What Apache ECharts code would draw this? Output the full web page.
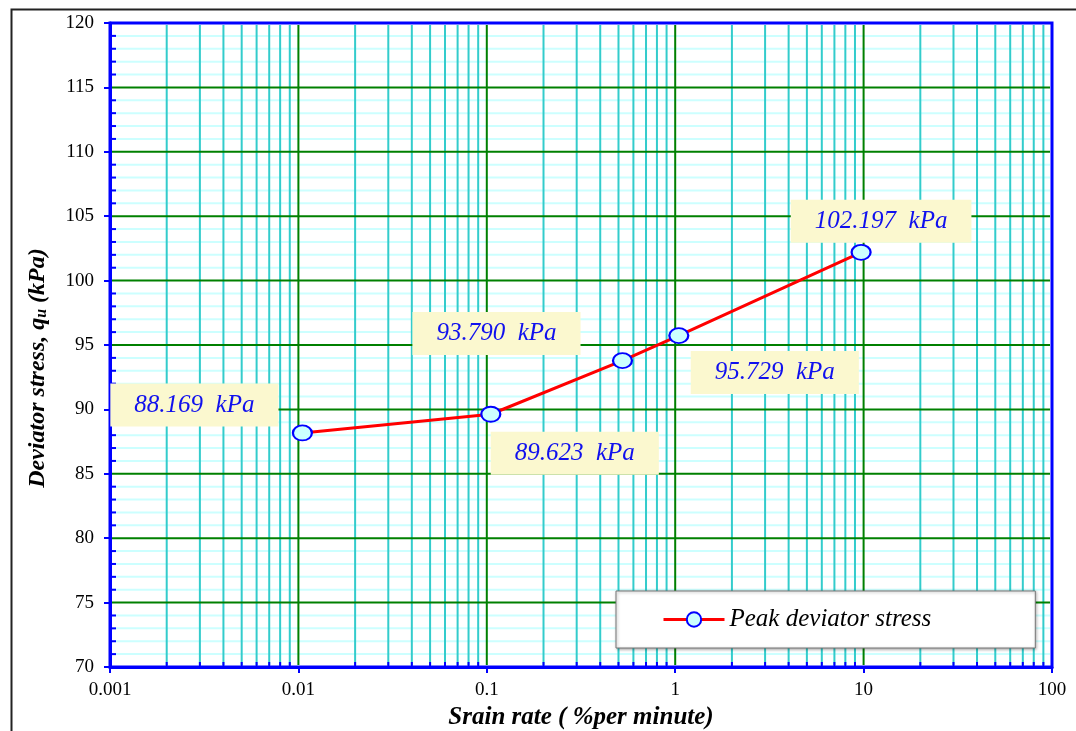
<!DOCTYPE html>
<html>
<head>
<meta charset="utf-8">
<script src="https://cdn.jsdelivr.net/npm/echarts@6/dist/echarts.min.js"></script>
<style>
html,body{margin:0;padding:0;background:#fff;}
#chart{width:1076px;height:731px;}
</style>
</head>
<body>
<div id="chart"></div>
<script>
// ---- data ----
const strainRates = [0.0105, 0.105, 0.525, 1.045, 9.7];
const peakStress = [88.169, 89.623, 93.790, 95.729, 102.197];
const seriesName = 'Peak deviator stress';
const xTickLabels = ['0.001', '0.01', '0.1', '1', '10', '100'];
const yTickLabels = ['70', '75', '80', '85', '90', '95', '100', '105', '110', '115', '120'];
const decades = [0.001, 0.01, 0.1, 1, 10];
const minorMultipliers = [2, 3, 4, 5, 6, 7, 8, 9];
const yMajors = [75, 80, 85, 90, 95, 100, 105, 110, 115];
// label offsets (px) relative to each point
const labelOffsets = [[-108, -28], [84, 39], [-126, -27], [96, 37], [20, -31]];

const minorX = [];
decades.forEach(d => minorMultipliers.forEach(m => minorX.push([d * m, 70])));
const minorY = [];
for (let v = 70; v < 120; v++) { if (v % 5 !== 0) minorY.push([0.001, v]); }
const majorX = decades.slice(1).map(d => [d, 70]);
const majorY = yMajors.map(v => [0.001, v]);

const serif = 'Liberation Serif, Times New Roman, serif';
const chart = echarts.init(document.getElementById('chart'));

function gridLines(kind, color, width, tick) {
  return function (params, api) {
    const cs = params.coordSys;
    const p = api.coord([api.value(0), api.value(1)]);
    const children = [];
    if (kind === 'v') {
      children.push({type: 'line', shape: {x1: p[0], y1: cs.y + 2, x2: p[0], y2: cs.y + cs.height - 2},
        style: {stroke: color, lineWidth: width}});
      if (tick) children.push({type: 'line', shape: {x1: p[0], y1: cs.y + cs.height, x2: p[0], y2: cs.y + cs.height - 5},
        style: {stroke: '#0000ff', lineWidth: 2}});
    } else {
      children.push({type: 'line', shape: {x1: cs.x + 2, y1: p[1], x2: cs.x + cs.width - 2, y2: p[1]},
        style: {stroke: color, lineWidth: width}});
      if (tick) children.push({type: 'line', shape: {x1: cs.x, y1: p[1], x2: cs.x + 6, y2: p[1]},
        style: {stroke: '#0000ff', lineWidth: 2}});
    }
    return {type: 'group', children: children};
  };
}

const option = {
  backgroundColor: '#ffffff',
  animation: false,
  graphic: [{
    type: 'rect', left: 9, top: 7, z: -10,
    shape: {width: 1100, height: 760},
    style: {fill: 'none', stroke: '#222', lineWidth: 2}
  }],
  grid: {
    left: 110, top: 23, right: 24, bottom: 64,
    outerBoundsMode: 'none',
    containLabel: false,
    show: true, borderColor: '#0000ff', borderWidth: 3, backgroundColor: 'transparent'
  },
  legend: {
    left: 616, top: 591,
    padding: [16, 104, 16, 46],
    backgroundColor: '#ffffff',
    borderColor: '#777', borderWidth: 1,
    shadowColor: 'rgba(0,0,0,0.35)', shadowBlur: 3, shadowOffsetX: 1, shadowOffsetY: 1,
    itemWidth: 61, itemHeight: 18, itemGap: 8,
    lineStyle: {width: 3},
    data: [seriesName],
    textStyle: {fontFamily: serif, fontStyle: 'italic', fontSize: 25, color: '#000'}
  },
  xAxis: {
    type: 'log', logBase: 10, min: 0.001, max: 100,
    name: 'Srain rate ( %per minute)',
    nameLocation: 'middle', nameGap: 36,
    nameTextStyle: {fontFamily: serif, fontStyle: 'italic', fontWeight: 'bold', fontSize: 25, color: '#000'},
    axisLine: {show: true, lineStyle: {color: '#0000ff', width: 3}},
    axisTick: {show: true, length: 6, lineStyle: {color: '#0000ff', width: 2}},
    axisLabel: {
      margin: 14, fontFamily: serif, fontSize: 19, color: '#000',
      formatter: v => xTickLabels[Math.round(Math.log10(v)) + 3]
    },
    splitLine: {show: false},
    minorTick: {show: false},
    minorSplitLine: {show: false}
  },
  yAxis: {
    type: 'value', min: 70, max: 120, interval: 5,
    name: 'Deviator stress, {q|q}{u|u}{n| (kPa)}',
    nameLocation: 'middle', nameGap: 60, nameRotate: 90,
    nameTextStyle: {
      fontFamily: serif, fontStyle: 'italic', fontWeight: 'bold', fontSize: 24, color: '#000',
      padding: [0, 46, 0, 0],
      rich: {
        q: {fontFamily: serif, fontStyle: 'italic', fontWeight: 'bold', fontSize: 24, color: '#000'},
        u: {fontFamily: serif, fontStyle: 'italic', fontWeight: 'bold', fontSize: 16, color: '#000', verticalAlign: 'bottom', padding: [9, 0, 0, 0]},
        n: {fontFamily: serif, fontStyle: 'italic', fontWeight: 'bold', fontSize: 24, color: '#000'}
      }
    },
    axisLine: {show: true, lineStyle: {color: '#0000ff', width: 3}},
    axisTick: {show: true, length: 6, lineStyle: {color: '#0000ff', width: 2}},
    axisLabel: {
      margin: 16, fontFamily: serif, fontSize: 19, color: '#000',
      formatter: v => yTickLabels[Math.round((v - 70) / 5)]
    },
    splitLine: {show: false},
    minorTick: {show: false},
    minorSplitLine: {show: false}
  },
  series: [{
    type: 'custom', name: 'minorY', silent: true, z: 1,
    data: minorY, renderItem: gridLines('h', '#ccffff', 2, true)
  }, {
    type: 'custom', name: 'minorX', silent: true, z: 1,
    data: minorX, renderItem: gridLines('v', '#33cccc', 2, true)
  }, {
    type: 'custom', name: 'majorY', silent: true, z: 1,
    data: majorY, renderItem: gridLines('h', '#008000', 2, false)
  }, {
    type: 'custom', name: 'majorX', silent: true, z: 1,
    data: majorX, renderItem: gridLines('v', '#008000', 2, false)
  }, {
    type: 'line',
    name: seriesName,
    z: 5,
    data: strainRates.map((x, i) => ({
      value: [x, peakStress[i]],
      label: {offset: labelOffsets[i]}
    })),
    symbol: 'circle',
    symbolSize: [19, 15],
    itemStyle: {color: '#ccffff', borderColor: '#0000ff', borderWidth: 2},
    lineStyle: {color: '#ff0000', width: 3},
    label: {
      show: true, position: 'inside',
      formatter: p => p.value[1].toFixed(3) + '  kPa',
      fontFamily: serif, fontStyle: 'italic', fontSize: 25, color: '#1010ee',
      backgroundColor: '#fbf8cf',
      padding: [10, 24, 8, 24]
    },
    emphasis: {disabled: true}
  }]
};
chart.setOption(option);
</script>
</body>
</html>
